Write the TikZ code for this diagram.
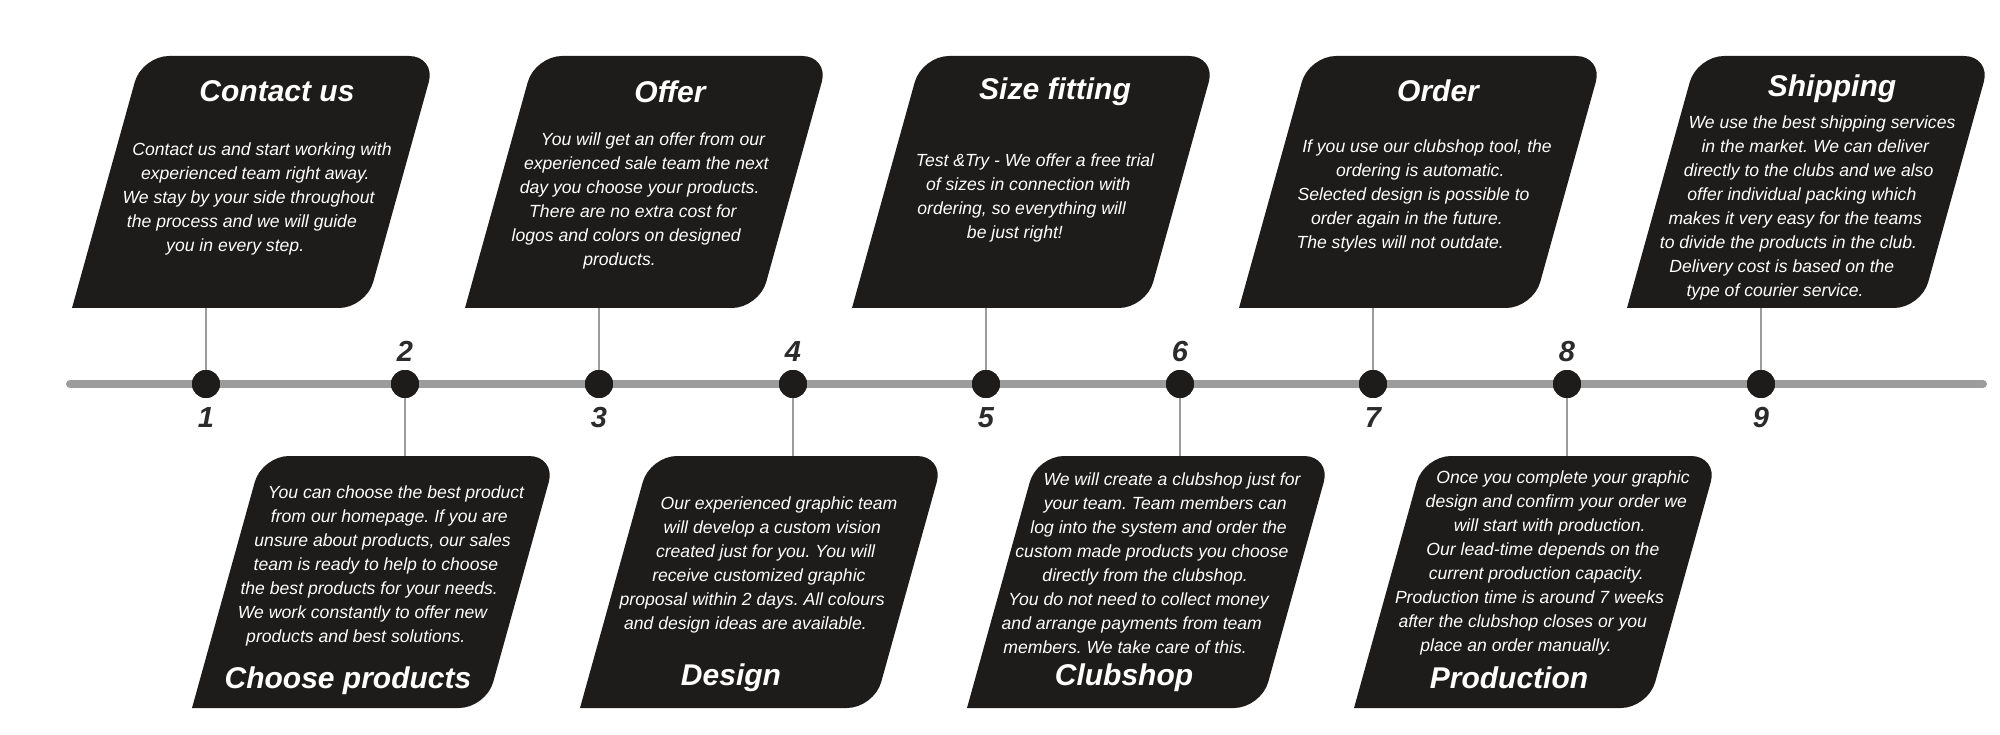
\documentclass[tikz,border=0pt]{standalone}
\usepackage{fontspec}
\setmainfont{Liberation Sans}
\frenchspacing
\usetikzlibrary{positioning}
\definecolor{cardfill}{HTML}{1E1C1A}
\definecolor{railgray}{HTML}{9C9C9C}
\definecolor{numgray}{HTML}{2B2B2B}
\tikzset{
	card/.style = {fill=cardfill, rounded corners=27pt},
	dot/.style = {circle, fill=cardfill, minimum size=28pt, inner sep=0pt},
	stem/.style = {draw=railgray, line width=2.5pt},
	rail/.style = {draw=railgray, line width=8pt, line cap=round},
	title/.style = {text=white, inner sep=0pt, anchor=base, font=\bfseries\itshape\fontsize{30}{36}\selectfont},
	body/.style = {text=white, inner sep=0pt, anchor=base, font=\itshape\fontsize{17.6}{24}\selectfont},
	num/.style = {text=numgray, inner sep=0pt, font=\bfseries\itshape\fontsize{29}{34}\selectfont}
}
% cards above and below the rail, #1 = name of the attach point, #2 = x of the stem
\newcommand{\upcard}[2]{
	\fill[card] (#2-134,308) -- (#2-64,56) -- (#2+230,56) -- (#2+160,308) -- (#2-134,308);
	\coordinate (#1) at (#2,308);
}
\newcommand{\downcard}[2]{
	\fill[card] (#2-213,708) -- (#2-143,456) -- (#2+151,456) -- (#2+81,708) -- (#2-213,708);
	\coordinate (#1) at (#2,456);
}
% text lines that follow the slant of the card, #2/#3 = base of the first line
\newcommand{\bodylines}[4]{
	\foreach \l [count=\k from 0] in {#4}
		\node[body] (#1-\k) at (#2-6.7*\k, #3+24*\k) {\l};
}

\begin{document}
\begin{tikzpicture}[x=1pt, y=-1pt]
	\useasboundingbox (0,0) rectangle (2000,735);

	\coordinate (start) at (70,384);
	\coordinate (end)   at (1983,384);
	\draw[rail] (start) -- (end);

	\node[dot] (d1) at (206,384)  {};
	\node[dot] (d2) at (405,384)  {};
	\node[dot] (d3) at (599,384)  {};
	\node[dot] (d4) at (793,384)  {};
	\node[dot] (d5) at (986,384)  {};
	\node[dot] (d6) at (1180,384) {};
	\node[dot] (d7) at (1373,384) {};
	\node[dot] (d8) at (1567,384) {};
	\node[dot] (d9) at (1761,384) {};

	\node[num, below=9pt of d1] (n1) {1};
	\node[num, above=8pt of d2] (n2) {2};
	\node[num, below=9pt of d3] (n3) {3};
	\node[num, above=8pt of d4] (n4) {4};
	\node[num, below=9pt of d5] (n5) {5};
	\node[num, above=8pt of d6] (n6) {6};
	\node[num, below=9pt of d7] (n7) {7};
	\node[num, above=8pt of d8] (n8) {8};
	\node[num, below=9pt of d9] (n9) {9};

	\upcard{c1}{206}
	\upcard{c3}{599}
	\upcard{c5}{986}
	\upcard{c7}{1373}
	\upcard{c9}{1761}
	\downcard{c2}{405}
	\downcard{c4}{793}
	\downcard{c6}{1180}
	\downcard{c8}{1567}

	\foreach \i in {1,...,9}
		\draw[stem] (c\i) -- (d\i);
	\foreach \i in {1,...,9}
		\node[dot] at (d\i) {};

	% steps above the rail
	\node[title] (h1) at (277,102) {Contact us};
	\bodylines{t1}{262}{156}{Contact us and start working with, experienced team right away., We stay by your side throughout, the process and we will guide, you in every step.}

	\node[title] (h3) at (670,103) {Offer};
	\bodylines{t3}{653}{146}{You will get an offer from our, experienced sale team the next, day you choose your products., There are no extra cost for, logos and colors on designed, products.}

	\node[title] (h5) at (1055,100) {Size fitting};
	\bodylines{t5}{1035}{167}{Test \&Try - We offer a free trial, of sizes in connection with, {ordering, so everything will}, be just right!}

	\node[title] (h7) at (1438,102) {Order};
	\bodylines{t7}{1427}{153}{{If you use our clubshop tool, the}, ordering is automatic., Selected design is possible to, order again in the future., The styles will not outdate.}

	\node[title] (h9) at (1832,97) {Shipping};
	\bodylines{t9}{1822}{129}{We use the best shipping services, in the market. We can deliver, directly to the clubs and we also, offer individual packing which, makes it very easy for the teams, to divide the products in the club., Delivery cost is based on the, type of courier service.}

	% steps below the rail
	\bodylines{t2}{396}{498}{You can choose the best product, from our homepage. If you are, {unsure about products, our sales}, team is ready to help to choose, the best products for your needs., We work constantly to offer new, products and best solutions.}
	\node[title] (h2) at (348,688) {Choose products};

	\bodylines{t4}{779}{509}{Our experienced graphic team, will develop a custom vision, created just for you. You will, receive customized graphic, proposal within 2 days. All colours, and design ideas are available.}
	\node[title] (h4) at (731,685) {Design};

	\bodylines{t6}{1172}{485}{We will create a clubshop just for, your team. Team members can, log into the system and order the, custom made products you choose, directly from the clubshop., You do not need to collect money, and arrange payments from team, members. We take care of this.}
	\node[title] (h6) at (1124,685) {Clubshop};

	\bodylines{t8}{1563}{483}{Once you complete your graphic, design and confirm your order we, will start with production., Our lead-time depends on the, current production capacity., Production time is around 7 weeks, after the clubshop closes or you, place an order manually.}
	\node[title] (h8) at (1509,688) {Production};
\end{tikzpicture}
\end{document}
